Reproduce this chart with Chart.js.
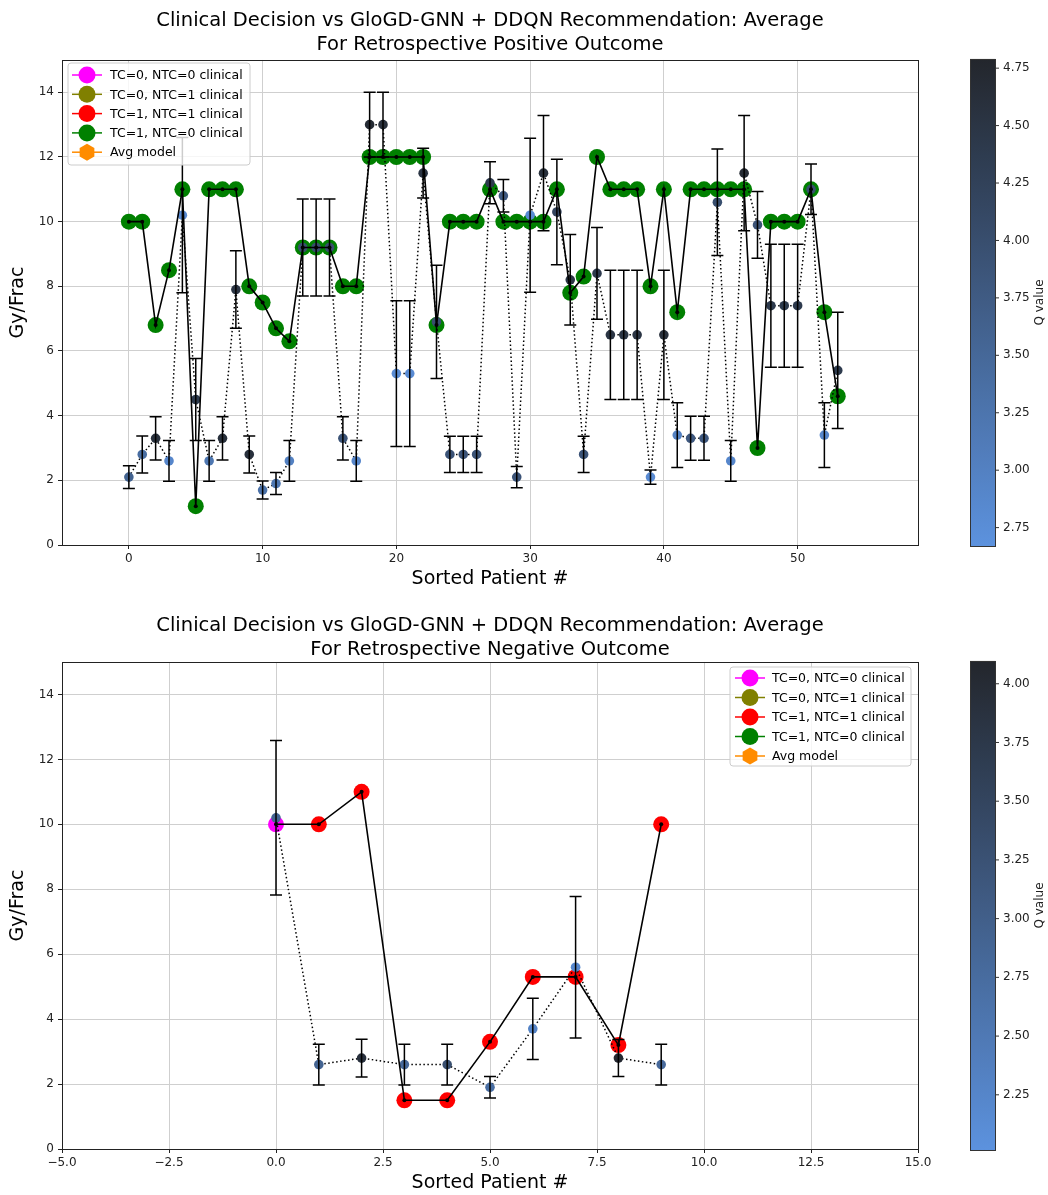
<!DOCTYPE html>
<html><head><meta charset="utf-8">
<script src="https://cdn.jsdelivr.net/npm/chart.js@4/dist/chart.umd.min.js"></script>
<style>
html,body{margin:0;padding:0;background:#fff;}
#wrap{position:relative;width:1048px;height:1195px;overflow:hidden;}
#c1{position:absolute;left:0;top:0;}
#c2{position:absolute;left:0;top:597px;}
</style></head><body>
<div id="wrap">
<canvas id="c1" width="1048" height="597"></canvas>
<canvas id="c2" width="1048" height="598"></canvas>
</div>
<script>
// ---------------- DATA ----------------
const posPatients = [0,1,2,3,4,5,6,7,8,9,10,11,12,13,14,15,16,17,18,19,20,21,22,23,24,25,26,27,28,29,30,31,32,33,34,35,36,37,38,39,40,41,42,43,44,45,46,47,48,49,50,51,52,53];
const posClinical = [10,10,6.8,8.5,11,1.2,11,11,11,8.0,7.5,6.7,6.3,9.2,9.2,9.2,8.0,8.0,12,12,12,12,12,6.8,10,10,10,11,10,10,10,10,11,7.8,8.3,12,11,11,11,8.0,11,7.2,11,11,11,11,11,3.0,10,10,10,11,7.2,4.6];
const posCategory = [3,3,3,3,3,3,3,3,3,3,3,3,3,3,3,3,3,3,3,3,3,3,3,3,3,3,3,3,3,3,3,3,3,3,3,3,3,3,3,3,3,3,3,3,3,3,3,3,3,3,3,3,3,3];
const posModel = [2.1,2.8,3.3,2.6,10.2,4.5,2.6,3.3,7.9,2.8,1.7,1.9,2.6,9.2,9.2,9.2,3.3,2.6,13.0,13.0,5.3,5.3,11.5,6.9,2.8,2.8,2.8,11.2,10.8,2.1,10.2,11.5,10.3,8.2,2.8,8.4,6.5,6.5,6.5,2.1,6.5,3.4,3.3,3.3,10.6,2.6,11.5,9.9,7.4,7.4,7.4,11.0,3.4,5.4];
const posErr = [0.35,0.57,0.67,0.63,2.4,1.27,0.63,0.67,1.2,0.57,0.28,0.34,0.63,1.5,1.5,1.5,0.67,0.63,1.0,1.0,2.25,2.25,0.77,1.75,0.56,0.56,0.56,0.65,0.5,0.33,2.38,1.78,1.63,1.4,0.56,1.42,2.0,2.0,2.0,0.22,2.0,1.0,0.68,0.68,1.65,0.63,1.78,1.03,1.9,1.9,1.9,0.78,1.0,1.8];
const posQ = [3.6,3.4,4.6,2.9,2.8,4.4,3.2,4.6,4.5,4.6,3.3,3.2,3.0,4.0,4.0,4.0,3.9,2.9,4.7,4.6,2.8,2.8,4.5,4.0,3.9,3.9,3.9,4.4,3.8,3.9,2.8,4.6,4.2,4.5,3.9,4.4,4.5,4.5,4.5,2.8,4.6,3.0,3.8,3.8,4.0,2.9,4.7,3.9,4.4,4.4,4.4,4.0,2.9,4.4];

const negPatients = [0,1,2,3,4,5,6,7,8,9];
const negClinical = [10,10,11,1.5,1.5,3.3,5.3,5.3,3.2,10];
const negCategory = [0,2,2,2,2,2,2,2,2,2];
const negModel = [10.2,2.6,2.8,2.6,2.6,1.9,3.7,5.6,2.8,2.6];
const negErr = [2.38,0.63,0.58,0.63,0.63,0.33,0.94,2.18,0.57,0.63];
const negQ = [2.9,2.9,3.9,2.8,3.3,2.7,2.3,2.2,4.05,2.8];

const legendLabels = ['TC=0, NTC=0 clinical','TC=0, NTC=1 clinical','TC=1, NTC=1 clinical','TC=1, NTC=0 clinical','Avg model'];
const categoryColors = ['#ff00ff','#808000','#ff0000','#008000','#ff8c00'];

const yTicks = [0,2,4,6,8,10,12,14];
const posXTicks = [0,10,20,30,40,50];
const negXTicks = [-5,-2.5,0,2.5,5,7.5,10,12.5,15];
const posCbarTicks = [2.75,3.00,3.25,3.50,3.75,4.00,4.25,4.50,4.75];
const negCbarTicks = [2.25,2.50,2.75,3.00,3.25,3.50,3.75,4.00];
const posQRange = [2.67,4.79];
const negQRange = [2.015,4.097];

const posTitle = ['Clinical Decision vs GloGD-GNN + DDQN Recommendation: Average','For Retrospective Positive Outcome'];
const negTitle = ['Clinical Decision vs GloGD-GNN + DDQN Recommendation: Average','For Retrospective Negative Outcome'];

// ---------------- HELPERS ----------------
const FONT = "'DejaVu Sans', sans-serif";
const LOW = [92,146,222], HIGH = [35,38,44];
function cmap(q, lo, hi){
  const t = Math.max(0, Math.min(1, (q-lo)/(hi-lo)));
  const c = LOW.map((v,i)=>Math.round(v + (HIGH[i]-v)*t));
  return `rgb(${c[0]},${c[1]},${c[2]})`;
}
function fmtMinus(s){ return String(s).replace('-', '\u2212'); }

function makeChart(canvasId, cfg){
  const errPlugin = {
    id:'errbars',
    afterDatasetsDraw(chart){
      const {ctx, scales:{x,y}} = chart;
      ctx.save(); ctx.strokeStyle='#000'; ctx.lineWidth=1.5;
      cfg.patients.forEach((p,i)=>{
        const px = x.getPixelForValue(p);
        const t = y.getPixelForValue(cfg.model[i]+cfg.err[i]);
        const b = y.getPixelForValue(cfg.model[i]-cfg.err[i]);
        ctx.beginPath();
        ctx.moveTo(px,t); ctx.lineTo(px,b);
        ctx.moveTo(px-6,t); ctx.lineTo(px+6,t);
        ctx.moveTo(px-6,b); ctx.lineTo(px+6,b);
        ctx.stroke();
      });
      ctx.restore();
    }
  };
  const framePlugin = {
    id:'frame',
    afterDraw(chart){
      const {ctx, chartArea:a} = chart;
      ctx.save(); ctx.strokeStyle='#222'; ctx.lineWidth=1;
      ctx.strokeRect(Math.round(a.left)+0.5, Math.round(a.top)+0.5, Math.round(a.right-a.left), Math.round(a.bottom-a.top));
      ctx.restore();
    }
  };
  const legendPlugin = {
    id:'mlegend',
    afterDraw(chart){
      const {ctx} = chart;
      const L = cfg.legend;
      ctx.save();
      ctx.fillStyle='rgba(255,255,255,0.8)'; ctx.strokeStyle='#cccccc'; ctx.lineWidth=1;
      const r=3, x0=L.x, y0=L.y, w=L.w, h=L.h;
      ctx.beginPath();
      ctx.moveTo(x0+r,y0); ctx.lineTo(x0+w-r,y0); ctx.quadraticCurveTo(x0+w,y0,x0+w,y0+r);
      ctx.lineTo(x0+w,y0+h-r); ctx.quadraticCurveTo(x0+w,y0+h,x0+w-r,y0+h);
      ctx.lineTo(x0+r,y0+h); ctx.quadraticCurveTo(x0,y0+h,x0,y0+h-r);
      ctx.lineTo(x0,y0+r); ctx.quadraticCurveTo(x0,y0,x0+r,y0);
      ctx.closePath(); ctx.fill(); ctx.stroke();
      legendLabels.forEach((lab,i)=>{
        const cy = L.firstY + i*L.dy, cx = L.mx;
        const col = categoryColors[i];
        ctx.strokeStyle=col; ctx.lineWidth=1.5;
        ctx.beginPath(); ctx.moveTo(cx-15,cy); ctx.lineTo(cx+15,cy); ctx.stroke();
        ctx.fillStyle=col;
        ctx.beginPath();
        if(i<4){ ctx.arc(cx,cy,8.5,0,Math.PI*2); }
        else { for(let k=0;k<6;k++){ const ang=-Math.PI/2+k*Math.PI/3; const px=cx+8.5*Math.cos(ang), py=cy+8.5*Math.sin(ang); if(k===0) ctx.moveTo(px,py); else ctx.lineTo(px,py);} ctx.closePath(); }
        ctx.fill();
        ctx.fillStyle='#000'; ctx.font=`12.5px ${FONT}`; ctx.textBaseline='middle'; ctx.textAlign='left';
        ctx.fillText(lab, L.tx, cy+1);
      });
      ctx.restore();
    }
  };
  const cbarPlugin = {
    id:'cbar',
    afterDraw(chart){
      const {ctx, chartArea:a} = chart;
      const x0=970, x1=995, top=a.top-1, bot=a.bottom+1;
      const [lo,hi] = cfg.qRange;
      ctx.save();
      const g = ctx.createLinearGradient(0,bot,0,top);
      for(let k=0;k<=10;k++){ g.addColorStop(k/10, cmap(lo+(hi-lo)*k/10, lo, hi)); }
      ctx.fillStyle=g; ctx.fillRect(x0,top,x1-x0,bot-top);
      ctx.strokeStyle='#333'; ctx.lineWidth=1; ctx.strokeRect(x0+0.5,top+0.5,x1-x0,bot-top);
      ctx.fillStyle='#222'; ctx.font=`12px ${FONT}`; ctx.textBaseline='middle'; ctx.textAlign='left';
      cfg.cbarTicks.forEach(v=>{
        const py = bot - (v-lo)/(hi-lo)*(bot-top);
        ctx.beginPath(); ctx.moveTo(x1,py); ctx.lineTo(x1+4,py); ctx.stroke();
        ctx.fillText(v.toFixed(2), x1+8, py);
      });
      ctx.translate(1040,(top+bot)/2); ctx.rotate(-Math.PI/2);
      ctx.textAlign='center'; ctx.font=`12px ${FONT}`; ctx.fillText('Q value',0,0);
      ctx.restore();
    }
  };

  const ds = [
    { label:'clinical markers', data: cfg.patients.map((p,i)=>({x:p,y:cfg.clinical[i]})),
      showLine:false, pointRadius:8, pointBackgroundColor: cfg.category.map(c=>categoryColors[c]),
      pointBorderWidth:0, pointBorderColor:'rgba(0,0,0,0)', order:5 },
    { label:'model', data: cfg.patients.map((p,i)=>({x:p,y:cfg.model[i]})),
      showLine:true, borderColor:'#000', borderWidth:1.5, borderDash:[1.5,2.5],
      pointRadius:4.8, pointBackgroundColor: cfg.q.map(q=>cmap(q,cfg.qRange[0],cfg.qRange[1])),
      pointBorderWidth:0, order:4 },
    { label:'clinical line', data: cfg.patients.map((p,i)=>({x:p,y:cfg.clinical[i]})),
      showLine:true, borderColor:'#000', borderWidth:1.6, pointRadius:2, pointBackgroundColor:'#000',
      pointBorderWidth:0, order:1 }
  ];

  return new Chart(document.getElementById(canvasId), {
    type:'scatter',
    data:{ datasets: ds },
    plugins:[errPlugin, framePlugin, cbarPlugin, legendPlugin],
    options:{
      responsive:false, animation:false, devicePixelRatio:1, events:[],
      layout:{ padding:{ left:0, right:130, top:0, bottom:0 } },
      plugins:{
        legend:{display:false}, tooltip:{enabled:false},
        title:{ display:true, text: cfg.title, fullSize:false, color:'#000',
          font:{ family:FONT, size:19.5, weight:'normal', lineHeight:1.23 },
          padding:{ top:cfg.titlePadTop, bottom:cfg.titlePadBottom } }
      },
      scales:{
        x:{ type:'linear', min:cfg.xRange[0], max:cfg.xRange[1],
          afterBuildTicks:(s)=>{ s.ticks = cfg.xTicks.map(v=>({value:v})); },
          afterFit:(s)=>{ s.height = cfg.xHeight; },
          grid:{ color:'#cfcfcf', lineWidth:1, tickColor:'#222', tickLength:4 },
          border:{ display:false },
          ticks:{ autoSkip:false, maxRotation:0, color:'#222', padding:3, font:{family:FONT,size:12},
            callback:(v)=>cfg.xFmt(v) },
          title:{ display:true, text:'Sorted Patient #', color:'#000', font:{family:FONT,size:19}, padding:{top:0,bottom:cfg.xTitlePadBottom} }
        },
        y:{ type:'linear', min:0, max:15,
          afterBuildTicks:(s)=>{ s.ticks = yTicks.map(v=>({value:v})); },
          afterFit:(s)=>{ s.width = 62; },
          grid:{ color:'#cfcfcf', lineWidth:1, tickColor:'#222', tickLength:4 },
          border:{ display:false },
          ticks:{ autoSkip:false, color:'#222', padding:4, font:{family:FONT,size:12}, callback:(v)=>String(v) },
          title:{ display:true, text:'Gy/Frac', color:'#000', font:{family:FONT,size:19}, padding:{top:7,bottom:0} }
        }
      }
    }
  });
}

makeChart('c1', {
  patients:posPatients, clinical:posClinical, category:posCategory, model:posModel, err:posErr, q:posQ,
  qRange:posQRange, cbarTicks:posCbarTicks, title:posTitle, titlePadTop:9, titlePadBottom:3,
  xRange:[-5,59], xTicks:posXTicks, xHeight:52, xTitlePadBottom:7, xFmt:(v)=>String(v),
  legend:{ x:68, y:63, w:182, h:102, mx:87, tx:110, firstY:75, dy:19.3 }
});
makeChart('c2', {
  patients:negPatients, clinical:negClinical, category:negCategory, model:negModel, err:negErr, q:negQ,
  qRange:negQRange, cbarTicks:negCbarTicks, title:negTitle, titlePadTop:17, titlePadBottom:0,
  xRange:[-5,15], xTicks:negXTicks, xHeight:46, xTitlePadBottom:1, xFmt:(v)=>fmtMinus(v.toFixed(1)),
  legend:{ x:730, y:70, w:181, h:99, mx:750, tx:772, firstY:81, dy:19.5 }
});
</script>
</body></html>
